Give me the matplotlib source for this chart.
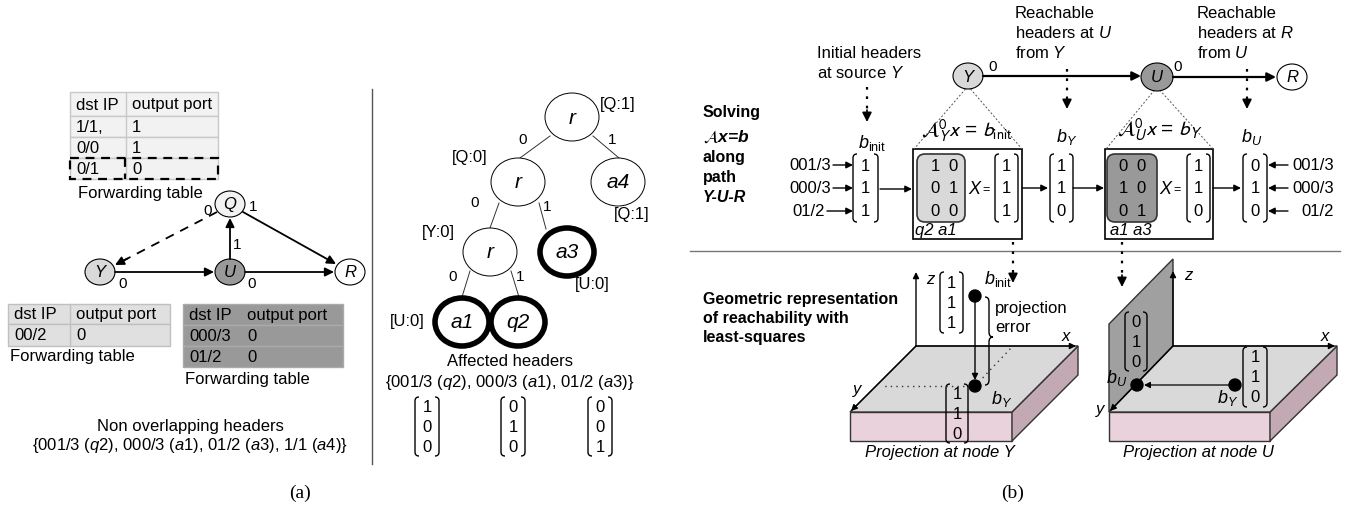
import matplotlib.pyplot as plt
from matplotlib.patches import Ellipse, Rectangle, Polygon, FancyBboxPatch, PathPatch
from matplotlib.path import Path

plt.rcParams['font.family'] = ['Liberation Sans', 'DejaVu Sans']
plt.rcParams['mathtext.fontset'] = 'custom'
plt.rcParams['mathtext.rm'] = 'Liberation Sans'
plt.rcParams['mathtext.it'] = 'Liberation Sans:italic'
plt.rcParams['mathtext.bf'] = 'Liberation Sans:bold'

# ---- data ----
q_table = [('1/1,', '1'), ('0/0', '1'), ('0/1', '0')]
y_table = [('00/2', '0')]
u_table = [('000/3', '0'), ('01/2', '0')]
headers = ['001/3', '000/3', '01/2']
affected = ['q2', 'a1', 'a3']
affected_vecs = [[1, 0, 0], [0, 1, 0], [0, 0, 1]]
b_init = [1, 1, 1]
A_Y = [[1, 0], [0, 1], [0, 0]]
A_Y_cols = ['q2', 'a1']
b_Y = [1, 1, 0]
A_U = [[0, 0], [1, 0], [0, 1]]
A_U_cols = ['a1', 'a3']
b_U = [0, 1, 0]
b_U_plane = [0, 1, 0]

fig = plt.figure(figsize=(13.61, 5.10), dpi=100)
ax = fig.add_axes([0, 0, 1, 1])
ax.set_xlim(0, 1361)
ax.set_ylim(510, 0)
ax.axis('off')


def T(x, y, s, size=12, ha='left', va='center', **kw):
    ax.text(x, y, s, fontsize=size, ha=ha, va=va, **kw)


def node(x, y, s, fc='white', w=30, h=26, lw=0.8, size=12):
    ax.add_patch(Ellipse((x, y), w, h, fc=fc, ec='k', lw=lw, zorder=3))
    T(x, y, s, size=size, ha='center', style='italic', zorder=4)


def arr(x1, y1, x2, y2, lw=1.3, ms=13):
    ax.annotate('', xy=(x2, y2), xytext=(x1, y1),
                arrowprops=dict(arrowstyle='-|>', lw=lw, color='k',
                                mutation_scale=ms, shrinkA=0, shrinkB=0))


def styled_arr(x1, y1, x2, y2, ls, lw=1.3, ms=13):
    # line drawn with style, head drawn solid
    dx, dy = x2 - x1, y2 - y1
    ax.plot([x1, x2 - dx * 0.05], [y1, y2 - dy * 0.05], ls=ls, color='k', lw=lw)
    arr(x2 - dx * 0.12, y2 - dy * 0.12, x2, y2, lw=lw, ms=ms)


def bracket(xl, xr, yt, yb, lw=1.0):
    c = 4
    left = [(xl + c, yt), (xl, yt), (xl, yt + c), (xl, yb - c), (xl, yb), (xl + c, yb)]
    right = [(xr - c, yt), (xr, yt), (xr, yt + c), (xr, yb - c), (xr, yb), (xr - c, yb)]
    codes = [Path.MOVETO, Path.CURVE3, Path.CURVE3, Path.LINETO, Path.CURVE3, Path.CURVE3]
    for v in (left, right):
        ax.add_patch(PathPatch(Path(v, codes), fc='none', ec='k', lw=lw))


def vec(xl, xr, yt, yb, vals, size=12):
    bracket(xl, xr, yt, yb)
    n = len(vals)
    for i, v in enumerate(vals):
        T((xl + xr) / 2, yt + (yb - yt) * (i + 0.5) / n, str(v), size=size, ha='center')


def mat(cx, yt, yb, rows, dx=18, size=12):
    n = len(rows)
    for i, r in enumerate(rows):
        y = yt + (yb - yt) * (i + 0.5) / n
        for j, v in enumerate(r):
            T(cx + (j - (len(r) - 1) / 2) * dx, y, str(v), size=size, ha='center')


def table(x0, x1, xdiv, ys, rows, fc, lc, xt2):
    allrows = [('dst IP', 'output port')] + rows
    for i, (a, b) in enumerate(allrows):
        ax.add_patch(Rectangle((x0, ys[i]), x1 - x0, ys[i + 1] - ys[i], fc=fc, ec=lc, lw=1))
        yc = (ys[i] + ys[i + 1]) / 2
        T(x0 + 6, yc, a)
        T(xt2, yc, b)
    if xdiv is not None:
        ax.plot([xdiv, xdiv], [ys[0], ys[-1]], color=lc, lw=1)


def brace(x, y0, y1, ym, w=8, lw=1.0):
    h = x + w / 2
    v = [(x, y0), (h, y0), (h, y0 + 5), (h, ym - 5), (h, ym), (x + w, ym),
         (h, ym), (h, ym + 5), (h, y1 - 5), (h, y1), (x, y1)]
    c = [Path.MOVETO, Path.CURVE3, Path.CURVE3, Path.LINETO, Path.CURVE3, Path.CURVE3,
         Path.CURVE3, Path.CURVE3, Path.LINETO, Path.CURVE3, Path.CURVE3]
    ax.add_patch(PathPatch(Path(v, c), fc='none', ec='k', lw=lw))


def dotted_arrow(x, y0, y1):
    ax.plot([x, x], [y0, y1 - 10], ls=(0, (1.2, 3)), color='k', lw=1.6)
    arr(x, y1 - 12, x, y1, lw=1.2, ms=14)


# ================= panel (a) left =================
table(70, 218, 126, [93, 117, 138, 159, 180], q_table, '#f2f2f2', '#c8c8c8', 132)
ax.add_patch(Rectangle((70, 159), 148, 21, fc='none', ec='k', lw=1.6, ls=(0, (4, 3))))
ax.plot([125, 125], [159, 180], color='k', lw=1.6, ls=(0, (4, 3)))
T(78, 194, 'Forwarding table')

qy = 205
node(230, qy, 'Q', fc='#f2f2f2', w=30, h=26)
node(100, 273, 'Y', fc='#d9d9d9', w=30, h=26)
node(230, 273, 'U', fc='#999999', w=30, h=26)
node(350, 273, 'R', fc='white', w=30, h=26)
arr(115, 273, 214, 273)
arr(245, 273, 334, 273)
arr(230, 260, 230, qy + 14)
arr(243, qy + 8, 336, 265)
styled_arr(217, qy + 8, 115, 266, ls=(0, (5, 4)))
T(208, qy + 6, '0', size=11, ha='center')
T(253, qy + 2, '1', size=11, ha='center')
T(237, 245, '1', size=11, ha='center')
T(123, 284, '0', size=11, ha='center')
T(252, 284, '0', size=11, ha='center')

table(8, 170, 70, [305, 325, 347], y_table, '#e0e0e0', '#c0c0c0', 76)
T(10, 357, 'Forwarding table')
table(183, 343, None, [305, 326, 347, 368], u_table, '#999999', '#aaaaaa', 247)
T(185, 380, 'Forwarding table')

T(190, 427, 'Non overlapping headers', ha='center')
T(190, 446, r'{001/3 ($\mathit{q2}$), 000/3 ($\mathit{a1}$), 01/2 ($\mathit{a3}$), 1/1 ($\mathit{a4}$)}',
  ha='center')
T(300, 493, '(a)', size=14, ha='center', family='Liberation Serif')

ax.plot([372, 372], [90, 465], color='#555555', lw=1)

# ================= panel (a) right: tree =================
tree_nodes = {'root': (572, 118, 'r'), 'l': (518, 183, 'r'), 'a4': (618, 183, 'a4'),
              'll': (490, 253, 'r'), 'a3': (567, 253, 'a3'),
              'a1': (462, 323, 'a1'), 'q2': (518, 323, 'q2')}
bold = {'a3', 'a1', 'q2'}
tree_edges = [((550, 137), (520, 159)), ((593, 137), (619, 159)),
              ((499, 204), (490, 229)), ((539, 204), (546, 230)),
              ((470, 272), (462, 298)), ((511, 272), (519, 298))]
for (p, q) in tree_edges:
    ax.plot([p[0], q[0]], [p[1], q[1]], color='#333333', lw=0.7)
for k, (x, y, s) in tree_nodes.items():
    lw = 4 if k in bold else 0.7
    ax.add_patch(Ellipse((x, y), 54, 48, fc='white', ec='k', lw=lw, zorder=3))
    T(x, y, s, size=15, ha='center', style='italic', zorder=4)
for (x, y, s) in [(523, 140, '0'), (612, 140, '1'), (475, 203, '0'), (547, 207, '1'),
                  (453, 277, '0'), (520, 277, '1')]:
    T(x, y, s, size=11, ha='center')
for (x, y, s) in [(618, 105, '[Q:1]'), (470, 158, '[Q:0]'), (632, 215, '[Q:1]'),
                  (438, 233, '[Y:0]'), (592, 285, '[U:0]'), (407, 322, '[U:0]')]:
    T(x, y, s, size=12, ha='center')

T(510, 362, 'Affected headers', ha='center')
T(510, 383, r'{001/3 ($\mathit{q2}$), 000/3 ($\mathit{a1}$), 01/2 ($\mathit{a3}$)}', ha='center')
for cx, v in zip([427, 513, 600], affected_vecs):
    vec(cx - 12, cx + 12, 398, 457, v)

# ================= panel (b) top =================
T(703, 113, 'Solving', size=11.5, weight='bold')
T(703, 137, r'$\mathcal{A}$x=b', size=12.5, weight='bold', style='italic', math_fontfamily='stixsans')
T(703, 158, 'along', size=11.5, weight='bold')
T(703, 178, 'path', size=11.5, weight='bold')
T(703, 198, 'Y-U-R', size=11.5, weight='bold', style='italic')

T(817, 53, 'Initial headers')
T(817, 73, r'at source $Y$')
T(1015, 13, 'Reachable')
T(1015, 33, r'headers at $U$')
T(1015, 53, r'from $Y$')
T(1197, 13, 'Reachable')
T(1197, 33, r'headers at $R$')
T(1197, 53, r'from $U$')

node(968, 77, 'Y', fc='#d9d9d9', w=30, h=26)
node(1157, 78, 'U', fc='#999999', w=32, h=28)
node(1292, 78, 'R', fc='white', w=30, h=26)
arr(983, 77, 1141, 77, lw=1.6)
arr(1173, 78, 1276, 78, lw=1.6)
T(993, 67, '0', size=11, ha='center')
T(1178, 67, '0', size=11, ha='center')

dotted_arrow(867, 88, 123)
dotted_arrow(1067, 70, 110)
dotted_arrow(1247, 70, 110)
T(872, 143, r'$b_{\mathrm{init}}$', size=13, ha='center')
T(1067, 137, r'$b_Y$', size=13, ha='center')
T(1252, 137, r'$b_U$', size=13, ha='center')

# dotted cone lines from nodes to boxes
for (nx, ny), (bl, br) in [((968, 77), (914, 1022)), ((1157, 78), (1106, 1213))]:
    for bx in (bl, br):
        ax.plot([nx, bx], [ny + 10, 150], ls=(0, (2, 2)), color='#555555', lw=0.7)

# input headers into b_init
ys3 = [166, 189, 212]
for h, y, x0 in zip(headers, ys3, [833, 833, 827]):
    T(x0 - 2, y, h, ha='right')
    arr(x0, y, 853, y, lw=1.0, ms=10)
vec(853, 878, 155, 223, b_init)
arr(880, 190, 912, 190, lw=1.0, ms=10)

# box 1
ax.add_patch(Rectangle((913, 150), 109, 90, fc='white', ec='k', lw=1.2, zorder=0))
ax.add_patch(FancyBboxPatch((919, 157), 44, 64, boxstyle='round,pad=2,rounding_size=8',
                            fc='#d9d9d9', ec='#333333', lw=1.2))
mat(944, 155, 223, A_Y)
T(915, 231, ' '.join(A_Y_cols), ha='left', style='italic')
T(974, 190, 'X', size=13, ha='center', style='italic')
T(986, 190, '=', size=9, ha='center')
vec(995, 1018, 155, 223, b_init)
T(967, 131, r'$\mathcal{A}_Y^0x$ = $b_{\mathrm{init}}$', size=15, ha='center', math_fontfamily='stixsans')

arr(1022, 189, 1048, 189, lw=1.0, ms=10)
vec(1050, 1073, 155, 223, b_Y)
arr(1073, 189, 1104, 189, lw=1.0, ms=10)

# box 2
ax.add_patch(Rectangle((1105, 150), 108, 90, fc='white', ec='k', lw=1.2, zorder=0))
ax.add_patch(FancyBboxPatch((1109, 157), 46, 64, boxstyle='round,pad=2,rounding_size=8',
                            fc='#999999', ec='#333333', lw=1.2))
mat(1132, 155, 223, A_U)
T(1110, 231, ' '.join(A_U_cols), ha='left', style='italic')
T(1165, 190, 'X', size=13, ha='center', style='italic')
T(1177, 190, '=', size=9, ha='center')
vec(1187, 1210, 155, 223, b_Y)
T(1160, 130, r'$\mathcal{A}_U^0x$ = $b_Y$', size=15, ha='center', math_fontfamily='stixsans')

arr(1213, 189, 1241, 189, lw=1.0, ms=10)
vec(1243, 1267, 155, 223, b_U)
for h, y in zip(headers, ys3):
    arr(1288, y, 1268, y, lw=1.0, ms=10)
    T(1334, y, h, ha='right')

ax.plot([690, 1340], [252, 252], color='#777777', lw=1)
dotted_arrow(1013, 243, 284)
dotted_arrow(1122, 243, 288)

# ================= panel (b) bottom =================
T(703, 300, 'Geometric representation', size=11.5, weight='bold')
T(703, 319, 'of reachability with', size=11.5, weight='bold')
T(703, 338, 'least-squares', size=11.5, weight='bold')


def slab(bl, br, fl, fr, depth):
    top = [bl, br, fr, fl]
    front = [fl, fr, (fr[0], fr[1] + depth), (fl[0], fl[1] + depth)]
    side = [fr, br, (br[0], br[1] + depth), (fr[0], fr[1] + depth)]
    ax.add_patch(Polygon(front, fc='#ead2dc', ec='#333333', lw=1))
    ax.add_patch(Polygon(side, fc='#c3a9b3', ec='#333333', lw=1))
    ax.add_patch(Polygon(top, fc='#d9d9d9', ec='#333333', lw=1))


# node Y slab
slab((916, 347), (1078, 347), (850, 413), (1012, 413), 29)
arr(916, 347, 1076, 347, lw=1.0, ms=9)
arr(916, 347, 851, 412, lw=1.0, ms=9)
arr(916, 347, 916, 273, lw=1.0, ms=9)
T(926, 280, 'z', style='italic')
T(1066, 337, 'x', style='italic', ha='center')
T(857, 390, 'y', style='italic', ha='center')
ax.plot([975, 884], [387, 387], ls=(0, (1, 3)), color='#333333', lw=1)
ax.plot([975, 1012], [387, 348], ls=(0, (1, 3)), color='#333333', lw=1)
vec(940, 963, 273, 334, b_init)
T(984, 279, r'$b_{\mathrm{init}}$', size=13)
arr(975, 302, 975, 381, lw=1.0, ms=9)
ax.add_patch(Ellipse((975, 297), 12, 12, fc='k', ec='k', zorder=5))
ax.add_patch(Ellipse((975, 387), 12, 12, fc='k', ec='k', zorder=5))
brace(985, 298, 386, 338)
T(995, 309, 'projection')
T(995, 328, 'error')
T(991, 399, r'$b_Y$', size=13)
vec(946, 968, 385, 444, b_Y)
T(940, 453, 'Projection at node Y', style='italic', ha='center')

# node U slab
slab((1173, 347), (1337, 347), (1109, 413), (1270, 413), 29)
ax.add_patch(Polygon([(1109, 413), (1173, 347), (1173, 260), (1109, 325)],
                     fc='#a0a0a0', ec='#333333', lw=1, zorder=0.5))
arr(1173, 347, 1335, 347, lw=1.0, ms=9)
arr(1173, 347, 1110, 412, lw=1.0, ms=9)
arr(1173, 347, 1173, 272, lw=1.0, ms=9)
T(1184, 276, 'z', style='italic')
T(1325, 337, 'x', style='italic', ha='center')
T(1100, 410, 'y', style='italic', ha='center')
vec(1125, 1147, 313, 372, b_U_plane)
arr(1230, 386, 1144, 386, lw=0.9, ms=9)
ax.add_patch(Ellipse((1137, 386), 12, 12, fc='k', ec='k', zorder=5))
ax.add_patch(Ellipse((1235, 386), 12, 12, fc='k', ec='k', zorder=5))
T(1117, 378, r'$b_U$', size=13, ha='center')
T(1228, 398, r'$b_Y$', size=13, ha='center')
vec(1243, 1267, 348, 408, b_Y)
T(1198, 453, 'Projection at node U', style='italic', ha='center')

T(1013, 493, '(b)', size=14, ha='center', family='Liberation Serif')

fig.savefig('out.png', dpi=100)
